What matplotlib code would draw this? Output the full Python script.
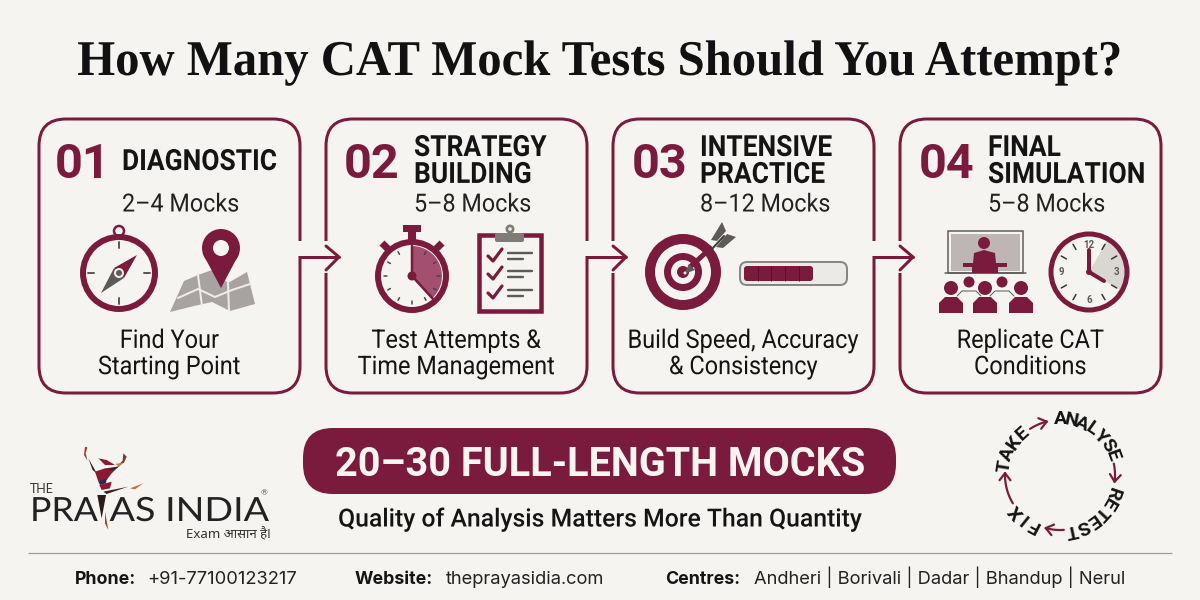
import numpy as np
import matplotlib
matplotlib.use("Agg")
import matplotlib.pyplot as plt
from matplotlib.patches import Circle, FancyBboxPatch, Polygon, Rectangle, Wedge
from matplotlib.patheffects import AbstractPathEffect
from matplotlib.transforms import Affine2D

# Content
title = "How Many CAT Mock Tests Should You Attempt?"
step_numbers = ["01", "02", "03", "04"]
step_titles = ["DIAGNOSTIC", "STRATEGY\nBUILDING", "INTENSIVE\nPRACTICE", "FINAL\nSIMULATION"]
step_counts = ["2–4 Mocks", "5–8 Mocks", "8–12 Mocks", "5–8 Mocks"]
step_captions = ["Find Your\nStarting Point", "Test Attempts &\nTime Management",
                 "Build Speed, Accuracy\n& Consistency", "Replicate CAT\nConditions"]
banner_text = "20–30 FULL-LENGTH MOCKS"
banner_sub = "Quality of Analysis Matters More Than Quantity"
cycle_words = ["ANALYSE", "RETEST", "FIX", "TAKE"]
footer_labels = ["Phone:", "Website:", "Centres:"]
footer_values = ["+91-77100123217", "theprayasidia.com", "Andheri | Borivali | Dadar | Bhandup | Nerul"]
logo_words = ["THE", "PRA", "AS INDIA", "Exam आसान है!"]

MAROON = "#7A1B3D"
INK = "#141414"
GREY = "#A8A3A0"
DARKGREY = "#5F5A5A"
BG = "#F5F4F0"

fig = plt.figure(figsize=(12, 6), dpi=100, facecolor=BG)
ax = fig.add_axes([0, 0, 1, 1])
ax.set_xlim(0, 1200)
ax.set_ylim(600, 0)
ax.axis("off")


class Squeeze(AbstractPathEffect):
    # no condensed fonts here, so narrow the glyphs around the anchor x
    def __init__(self, x, sx):
        super().__init__()
        self.x = x
        self.sx = sx

    def draw_path(self, renderer, gc, tpath, affine, rgbFace=None):
        squeeze = Affine2D().translate(-self.x, 0).scale(self.sx, 1).translate(self.x, 0)
        renderer.draw_path(gc, tpath, affine + squeeze, rgbFace)


def label(x, y, s, sx=1.0, **kw):
    t = ax.text(x, y, s, **kw)
    if sx != 1.0:
        t.set_path_effects([Squeeze(x, sx)])
    return t


def px(w):
    return w * 0.72


def line(xs, ys, color=MAROON, w=3, cap="round", z=3):
    ax.plot(xs, ys, color=color, lw=px(w), solid_capstyle=cap, solid_joinstyle="round", zorder=z)


def poly(points, color=MAROON, z=3):
    ax.add_patch(Polygon(points, closed=True, fc=color, ec="none", zorder=z))


def disc(x, y, r, color=MAROON, z=3):
    ax.add_patch(Circle((x, y), r, fc=color, ec="none", zorder=z))


def ring(x, y, r, w, color=MAROON, z=3, fc="none"):
    ax.add_patch(Circle((x, y), r, fc=fc, ec=color, lw=px(w), zorder=z))


def ticks(x, y, r1, r2, count, w=2, color=DARKGREY, z=4):
    for a in np.arange(count) * 2 * np.pi / count:
        line([x + r1 * np.sin(a), x + r2 * np.sin(a)], [y - r1 * np.cos(a), y - r2 * np.cos(a)], color, w, z=z)


# Title
label(600, 75, title, sx=0.974, family="Liberation Serif", weight="bold", fontsize=36, color="#111111", ha="center", va="baseline")

# Cards
card_left = [39, 326, 613, 900]
card_width = 261
card_top, card_bottom = 119, 393
number_x = [55, 344, 632, 919]
head_x = [122, 414, 700, 988]
for i in range(4):
    x0 = card_left[i]
    ax.add_patch(FancyBboxPatch((x0, card_top), card_width, card_bottom - card_top,
                                boxstyle="round,pad=0,rounding_size=27", fc="none", ec=MAROON, lw=px(3), zorder=2))
    label(number_x[i], 160, step_numbers[i], family="Roboto", weight="bold", fontsize=35, color=MAROON, ha="left", va="center_baseline")
    label(head_x[i], 159, step_titles[i], sx=0.905, family="Roboto", weight="bold", fontsize=21, color=INK,
          ha="left", va="center_baseline", linespacing=0.95, multialignment="left")
    label(head_x[i], 202, step_counts[i], sx=0.935, family="Roboto", fontsize=18, color="#222222", ha="left", va="center_baseline")
    label(x0 + card_width / 2, 354, step_captions[i], sx=0.915, family="Roboto", fontsize=18.5, color=INK,
          ha="center", va="center", linespacing=1.12)

# Arrows between cards
for i in range(3):
    xr = card_left[i] + card_width
    xl = card_left[i + 1]
    tip = xl + 13
    ax.add_patch(Rectangle((xr - 3, 241), 6, 15, fc=BG, ec="none", zorder=2.5))
    ax.add_patch(Rectangle((xl - 3, 241), 6, 32, fc=BG, ec="none", zorder=2.5))
    line([xr, tip], [257, 257])
    line([xl, tip, xl], [246, 257, 270])

# Compass
cx, cy = 119, 273
ring(cx, 231, 5, 2.5)
ring(cx, cy, 36, 6)
ticks(cx, cy, 25, 31, 4, 2)
poly([(137, 255), (114, 268), (124, 278)], MAROON)
poly([(101, 293), (114, 268), (124, 278)], DARKGREY)
ring(cx, cy, 4, 2, "#EFEDEA", z=4, fc=DARKGREY)

# Map and pin
poly([(170, 312), (184, 281), (198, 275), (212, 270), (228, 283), (247, 272), (255, 304), (230, 311), (212, 302), (194, 306)], GREY)
line([178, 198, 215, 232, 250], [298, 289, 297, 290, 284], "#EFEDEA", 2)
line([198, 202], [275, 306], "#EFEDEA", 2)
line([228, 229], [283, 311], "#EFEDEA", 2)
disc(221, 248, 19)
poly([(203, 254), (239, 254), (221, 288)])
disc(221, 248, 8, "#F5F4F0", z=4)

# Stopwatch and clipboard
cx, cy = 412, 276
ax.add_patch(Rectangle((403, 225), 18, 7, fc=MAROON, ec="none", zorder=3))
ax.add_patch(Rectangle((408, 230), 8, 10, fc=MAROON, ec="none", zorder=3))
line([382, 390], [243, 251], MAROON, 7, cap="butt")
line([442, 434], [243, 251], MAROON, 7, cap="butt")
ring(cx, cy, 34, 6)
ax.add_patch(Wedge((cx, cy), 30, -90, 48, fc="#A34F6F", ec="none", zorder=3))
ticks(cx, cy, 25, 28, 12, 1.5, "#444444")
line([cx, cx], [cy, cy - 30], MAROON, 2.5, z=5)
line([cx, cx + 21], [cy, cy + 23], MAROON, 2.5, z=5)
disc(cx, cy, 4.5, MAROON, z=5)

ax.add_patch(Rectangle((479, 235), 62, 76, fc="#F5F4F0", ec=MAROON, lw=px(4.5), zorder=3))
ax.add_patch(FancyBboxPatch((495, 233), 29, 9, boxstyle="round,pad=0,rounding_size=2", fc="#807A78", ec="none", zorder=4))
disc(510, 229, 4.5, "#807A78", z=4)
disc(510, 229, 1.8, "#EFEDEA", z=5)
for y in [256, 274, 293]:
    line([488, 493, 502], [y, y + 5, y - 7], MAROON, 3.2)
    line([508, 532], [y - 3, y - 3], DARKGREY, 2.4)
    line([508, 523], [y + 3, y + 3], DARKGREY, 2.4)

# Target and progress bar
cx, cy = 683, 272
disc(cx, cy, 38)
disc(cx, cy, 28, BG)
disc(cx, cy, 19)
disc(cx, cy, 12, BG)
disc(cx, cy, 6)
line([690, 712], [267, 247], MAROON, 5, cap="butt", z=5)
poly([(684, 274), (689, 264), (695, 270)], DARKGREY, z=5)
disc(685, 273, 1.5, "#EFEDEA", z=6)
poly([(711, 240), (722, 222), (726, 231), (717, 241)], DARKGREY, z=5)
poly([(716, 247), (727, 234), (736, 237), (723, 248)], DARKGREY, z=5)
line([711, 724], [250, 236], "#3F3A3A", 2, z=6)
ax.add_patch(FancyBboxPatch((740, 262), 107, 23, boxstyle="round,pad=0,rounding_size=7", fc="#ECEAE6", ec="#8A8583", lw=px(2), zorder=3))
ax.add_patch(FancyBboxPatch((744, 266), 69, 15, boxstyle="round,pad=0,rounding_size=3", fc=MAROON, ec="none", zorder=4))
for x in [758, 771, 785, 799]:
    line([x, x], [266, 281], "#5A1029", 1, cap="butt", z=5)

# Classroom
ax.add_patch(Rectangle((948, 231), 75, 42, fc="#F5F4F0", ec=DARKGREY, lw=px(1.5), zorder=3))
ax.add_patch(Rectangle((951, 234), 69, 37, fc="#BDB6B4", ec="none", zorder=3))
disc(984, 243, 6)
poly([(973, 263), (974, 253), (984, 250), (995, 253), (996, 263)])
ax.add_patch(Rectangle((963, 263), 44, 4, fc=MAROON, ec="none", zorder=4))
ax.add_patch(Rectangle((972, 266), 26, 7, fc=MAROON, ec="none", zorder=4))
line([945, 1026], [273, 273], DARKGREY, 1.5)
for x in [951, 985, 1021]:
    disc(x, 288, 7)
    poly([(x - 12, 313), (x - 12, 303), (x - 6, 297), (x + 6, 297), (x + 12, 303), (x + 12, 313)])
for x in [969, 1002]:
    disc(x, 282, 5.5)
    line([x - 12, x - 7, x + 7, x + 12], [296, 291, 291, 296], DARKGREY, 1)

# Clock
cx, cy = 1089, 272
ring(cx, cy, 38, 5)
ax.add_patch(Wedge((cx, cy), 36, -60, 30, fc="#DAD6D2", ec="none", zorder=2.8))
for a in np.arange(12) * 30:
    if a % 90:
        r = np.deg2rad(a)
        line([cx + 26 * np.sin(r), cx + 32 * np.sin(r)], [cy - 26 * np.cos(r), cy - 32 * np.cos(r)], "#333333", 1.5)
for num, dx, dy in [("12", 0, -27), ("3", 28, 0), ("6", 0, 28), ("9", -28, 0)]:
    ax.text(cx + dx, cy + dy, num, family="Roboto", weight="bold", fontsize=7, color=DARKGREY, ha="center", va="center", zorder=4)
line([cx, cx], [cy, cy - 22], MAROON, 4, z=5)
line([cx, cx + 15], [cy, cy + 9], MAROON, 4, z=5)
disc(cx, cy, 3, MAROON, z=5)

# Banner
ax.add_patch(FancyBboxPatch((303, 428), 593, 66, boxstyle="round,pad=0,rounding_size=30", fc=MAROON, ec="none", zorder=2))
ax.text(600, 461, banner_text, family="Roboto", weight="bold", fontsize=28.5, color="#F8F5F0", ha="center", va="center_baseline", zorder=3)
label(600, 519, banner_sub, sx=0.99, family="Roboto", weight="medium", fontsize=18, color=INK, ha="center", va="center")

# Cycle
cc_x, cc_y, cc_r = 1060, 475, 56
word_angles = [(0, 70), (109, 168), (208, 230), (279, 318)]
for word, (a0, a1) in zip(cycle_words, word_angles):
    for ch, a in zip(word, np.linspace(a0, a1, len(word))):
        r = np.deg2rad(a)
        ax.text(cc_x + cc_r * np.sin(r), cc_y - cc_r * np.cos(r), ch, family="Roboto", weight="bold", fontsize=14,
                color=INK, rotation=-a, rotation_mode="anchor", ha="center", va="center")
for (a0, a1) in [(327, 346), (78, 97), (176, 195), (239, 272)]:
    t = np.deg2rad(np.linspace(a0, a1, 20))
    r = cc_r - 1
    xs, ys = cc_x + r * np.sin(t), cc_y - r * np.cos(t)
    line(xs, ys, MAROON, 2.2)
    d = np.arctan2(ys[-1] - ys[-3], xs[-1] - xs[-3])
    for s in [-1, 1]:
        line([xs[-1] - 9 * np.cos(d + s * 0.65), xs[-1]], [ys[-1] - 9 * np.sin(d + s * 0.65), ys[-1]], MAROON, 2.2)


# Logo: dancer
def lg(points):
    return [(70 + a / 3, 440 + b / 3) for a, b in points]


poly(lg([(45, 20), (52, 22), (47, 40), (52, 62), (42, 45)]), "#9A3B2E")
poly(lg([(160, 40), (170, 50), (162, 68), (140, 80), (158, 62)]), "#8A3030")
poly(lg([(55, 55), (72, 85), (80, 100), (68, 90)]), "#2A1A1A")
poly(lg([(85, 55), (110, 60), (135, 75), (105, 75)]), "#8A1A30")
poly(lg([(135, 72), (160, 68), (150, 78)]), "#B8864A")
poly(lg([(75, 95), (105, 85), (145, 80), (125, 100), (110, 120), (85, 125)]), "#8A1A30")
poly(lg([(110, 88), (150, 78), (130, 92)]), "#2A2A2A")
poly(lg([(85, 125), (110, 115), (108, 130), (90, 135)]), "#2A2A4A")
poly(lg([(88, 135), (125, 125), (120, 145), (95, 150)]), "#8A1A30")
poly(lg([(100, 155), (175, 140), (130, 155), (110, 162)]), "#3A1F1F")
poly(lg([(180, 145), (220, 130), (195, 148)]), "#C2703A")
poly(lg([(82, 165), (108, 165), (95, 235)]), "#2A1A1A")
poly(lg([(105, 215), (115, 270), (105, 250)]), "#A0402E")

ax.text(30, 489, logo_words[0], family="Lato", fontsize=9, color="#333333", ha="left", va="center")
label(30, 512, logo_words[1], sx=1.07, family="Lato", fontsize=24, color="#222222", ha="left", va="center")
label(269, 512, logo_words[2], sx=1.13, family="Lato", fontsize=24, color="#222222", ha="right", va="center")
ax.text(264, 493, "®", family="Lato", fontsize=6, color="#555555", ha="center", va="center")
ax.text(271, 535, logo_words[3], family=["Noto Sans", "DejaVu Sans"], fontsize=9.5, color="#333333", ha="right", va="center")

# Footer
line([28, 1172], [553, 553], "#9C9A97", 1.2, cap="butt")
label_x = [75, 355, 665]
value_x = [147, 446, 754]
for lab, val, x1, x2 in zip(footer_labels, footer_values, label_x, value_x):
    ax.text(x1, 584, lab, family="Inter", weight="bold", fontsize=12.8, color=INK, ha="left", va="baseline")
    ax.text(x2, 584, val, family="Inter", fontsize=13.2, color="#222222", ha="left", va="baseline")

fig.savefig("out.png", dpi=100, facecolor=BG)
